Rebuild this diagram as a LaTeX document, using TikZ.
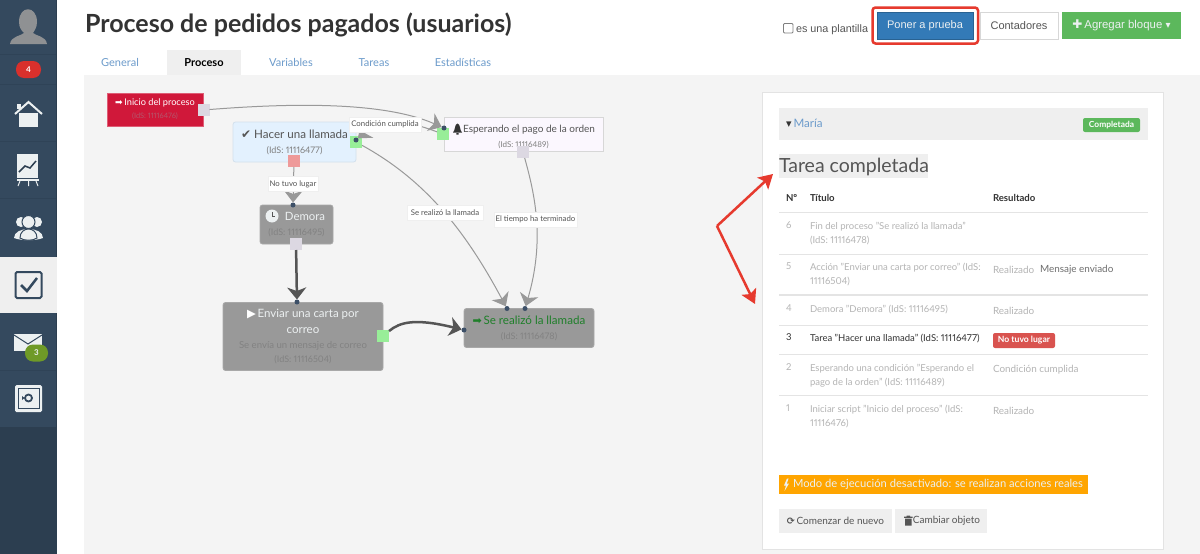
\documentclass[tikz,border=0pt]{standalone}
\usepackage{fontspec}
\usepackage{amsmath}
\usetikzlibrary{arrows.meta}
\setmainfont{Lato}[Numbers=Proportional]
\newfontfamily\symfont{DejaVu Sans}
\newfontfamily\btnfont{Liberation Sans}
\definecolor{sidebar}{HTML}{34495E}
\definecolor{sidedark}{HTML}{2C3E50}
\definecolor{sideline}{HTML}{2F4357}
\definecolor{iconlight}{HTML}{ECF0F1}
\definecolor{canvasgray}{HTML}{F4F4F4}
\definecolor{softgray}{HTML}{EFEFEF}
\definecolor{linkblue}{HTML}{6C9BCB}
\definecolor{titleink}{HTML}{333333}
\definecolor{blockgray}{HTML}{999999}
\definecolor{blockid}{HTML}{828282}
\definecolor{bluefill}{HTML}{E3F1FE}
\definecolor{blueedge}{HTML}{D3E0EC}
\definecolor{lilacfill}{HTML}{FBF7FE}
\definecolor{portgray}{HTML}{DCD8E2}
\definecolor{portgreen}{HTML}{98EE98}
\definecolor{portred}{HTML}{EE9A9A}
\definecolor{dotblue}{HTML}{3D5068}
\definecolor{darkline}{HTML}{555555}
\definecolor{redmark}{HTML}{E63A2E}
\definecolor{okgreen}{HTML}{5CB85C}
\definecolor{btnblue}{HTML}{337AB7}
\definecolor{startred}{HTML}{D0183A}
\definecolor{startid}{HTML}{B4566C}
\definecolor{endgreen}{HTML}{1F7F2A}
\definecolor{rowgray}{HTML}{B4B4B4}
\definecolor{rowline}{HTML}{E4E4E4}
\definecolor{warnorange}{HTML}{FFA500}
\definecolor{failred}{HTML}{D9534F}
\definecolor{badgered}{HTML}{D9302C}
\definecolor{badgegreen}{HTML}{6F9A27}
\newcommand{\fsz}[1]{\fontsize{#1}{#1}\selectfont}
\tikzstyle{every node}=[inner sep=0pt,outer sep=0pt]
\tikzstyle{block}=[rounded corners=2.5pt,align=center,fill=blockgray,draw=blockgray!85!white,line width=.8pt,text=iconlight]
\tikzstyle{port}=[minimum size=12pt]
\tikzstyle{pdot}=[circle,fill=dotblue,minimum size=5pt]
\tikzstyle{thinlink}=[draw=blockgray,line width=1pt,-{Stealth[length=12pt,width=19pt,inset=3.5pt,fill=blockgray]}]
\tikzstyle{boldlink}=[draw=darkline,line width=2.5pt,-{Stealth[length=12pt,width=19pt,inset=3.5pt,fill=darkline]}]
\tikzstyle{redlink}=[draw=redmark,line width=2.5pt,-{Stealth[length=14pt,width=16pt,inset=3pt]}]
\tikzstyle{edgetag}=[fill=white,draw=softgray,line width=.8pt,text=darkline,font=\fsz{7.8},minimum height=15pt]
\tikzstyle{tab}=[anchor=base,text=linkblue,font=\fsz{11}]
\tikzstyle{rowtext}=[anchor=north west,align=left,text=rowgray,font=\fontsize{9.5}{14}\selectfont]
\tikzstyle{rowres}=[anchor=west,text=rowgray,font=\fsz{9.9}]
\tikzstyle{rowrule}=[draw=rowline,line width=1pt]
\tikzstyle{headcell}=[anchor=west,text=titleink,font=\fsz{9.6}\bfseries]
\tikzstyle{topbtn}=[minimum height=27pt,font=\btnfont\fsz{11}]
\tikzstyle{greybtn}=[fill=softgray,text=darkline,minimum height=24pt,font=\fsz{10}]
\tikzstyle{sideicon}=[fill=iconlight,draw=none]
\newcommand{\ids}[2]{{\fontsize{9}{13}\selectfont\color{#1}(IdS: #2)}}

\begin{document}
\begin{tikzpicture}[x=1pt,y=-1pt]
\useasboundingbox (0,0) rectangle (1200,554);
\fill[white] (0,0) rectangle (1200,554);
\fill[canvasgray] (84,75) rectangle (1200,554);
\fill[sidebar] (0,0) rectangle (57,554);
\fill[sidedark] (0,427) rectangle (57,554);
\fill[softgray] (0,257) rectangle (57,313);
\draw[sidedark,line width=.8pt] (56.6,0)--(56.6,257) (56.6,313)--(56.6,554);
\foreach \yrow in {54,84,141,198,370}{
\draw[sideline,line width=.8pt] (0,\yrow)--(56,\yrow);
}

\fill[blockgray!90!sidebar] (19,22) .. controls (19,5) and (37,5) .. (37,22) .. controls (37,28) and (34,31) .. (33,33) .. controls (36,36) and (46,36) .. (47,44) -- (10,44) .. controls (11,36) and (21,36) .. (24,33) .. controls (22,31) and (19,28) .. (19,22) -- cycle;
\node[fill=badgered,rounded corners=8pt,minimum width=25pt,minimum height=17pt,text=white,font=\fsz{8}\bfseries] (badgefour) at (28.5,69.5) {4};

\fill[sideicon] (19,113)--(38,113)--(38,127)--(19,127)--cycle;
\draw[iconlight,line width=2pt] (15,114)--(28.5,102)--(42,114);
\fill[sideicon] (17,104) rectangle (21,109);

\fill[sideicon] (17,154) rectangle (38,178);
\fill[sideicon] (17,179) rectangle (39,181);
\draw[iconlight,line width=1pt] (20,181)--(18,186) (28.5,181)--(28.5,186) (36,181)--(38,186);
\draw[sidedark,line width=1.5pt] (19,172)--(25,166)--(30,168)--(36,161);

\foreach \xhead/\rhead in {21/5,37/5}{
\fill[sideicon] (\xhead,222) circle (\rhead);
}
\fill[sideicon] (14,238) .. controls (14,226) and (43,226) .. (43,238) .. controls (35,241) and (22,241) .. (14,238) -- cycle;
\draw[sidebar,line width=1pt,fill=iconlight] (28.5,222) circle (6.5);
\draw[sidebar,line width=1pt,fill=iconlight] (20,238) .. controls (20,226) and (37,226) .. (37,238) .. controls (33,241) and (24,241) .. (20,238) -- cycle;

\draw[sidebar,line width=2pt,rounded corners=1.5pt] (15.5,272) rectangle (41.5,298);
\draw[sidebar,line width=2.5pt] (21,285)--(27,291)--(37,278);

\fill[sideicon] (14,334) rectangle (42,351);
\draw[sidebar,line width=1pt] (14,335)--(28,344)--(42,335);
\node[fill=badgegreen,rounded corners=8pt,minimum width=23pt,minimum height=17pt,text=iconlight,font=\fsz{8}\bfseries] (badgethree) at (36.5,353) {3};

\fill[sideicon,rounded corners=1.5pt] (15,385) rectangle (42,412);
\draw[sidebar,line width=.8pt] (18,388) rectangle (39,408);
\draw[sidebar,line width=1.8pt] (28.5,398) circle (3.5);
\fill[sidebar] (22,396) -- (24.5,398) -- (22,400) -- cycle;

\node[anchor=west,text=titleink,font=\fsz{25}\bfseries] (pagetitle) at (85,25) {Proceso de pedidos pagados (usuarios)};
\fill[softgray] (167,50) rectangle (241,75);
\node[tab] (tabgeneral) at (120,66) {General};
\node[tab,text=black,font=\fsz{11}\bfseries] (tabproceso) at (204,66) {Proceso};
\node[tab] (tabvariables) at (291,66) {Variables};
\node[tab] (tabtareas) at (374,66) {Tareas};
\node[tab] (tabestadisticas) at (463,66) {Estadísticas};

\draw[gray,line width=.8pt,rounded corners=1pt,fill=white] (783.5,23.5) rectangle (793,33);
\node[anchor=west,text=darkline,font=\btnfont\fsz{10.8}] (plantilla) at (796,30) {es una plantilla};
\node[topbtn,fill=btnblue,draw=btnblue!80!black,line width=.8pt,text=iconlight,minimum width=96pt] (pruebabtn) at (925,25.5) {Poner a prueba};
\draw[redmark,line width=2.5pt,rounded corners=3pt] (872.5,7.5) rectangle (978,43.5);
\node[topbtn,fill=white,draw=softgray!90!black,line width=.8pt,text=darkline,minimum width=78pt] (contadoresbtn) at (1019,25.5) {Contadores};
\node[topbtn,fill=okgreen,text=iconlight,minimum width=119pt,font=\btnfont\fsz{11.4}] (agregarbtn) at (1121.5,25.5) {{\symfont\fsz{12}✚}\,Agregar bloque {\symfont\fsz{10}▾}};

\fill[white,draw=softgray!95!black,line width=1pt] (762.5,92) rectangle (1163,549);
\fill[softgray] (779,108) rectangle (1148,140);
\node[anchor=west,text=linkblue,font=\fsz{11.6}] (mariatext) at (786,123) {{\symfont\color{titleink}\fsz{11}▾}\hspace{2pt}María};
\node[fill=okgreen,rounded corners=2pt,minimum width=57pt,minimum height=14pt,text=white,font=\fsz{8.4}\bfseries] (completadatag) at (1111.5,125) {Completada};
\fill[softgray] (779,154) rectangle (928,178);
\node[anchor=west,text=darkline,font=\fsz{19.5}] (tareatitle) at (779,166.5) {Tarea completada};

\node[headcell] (headnum) at (786,198) {Nº};
\node[headcell] (headtitle) at (810,198) {Título};
\node[headcell] (headres) at (993,198) {Resultado};
\draw[rowrule,line width=1.5pt] (779,212.5)--(1148,212.5);
\draw[rowrule] (779,254)--(1148,254);
\draw[rowrule,line width=1.5pt] (779,295)--(1148,295);
\draw[rowrule] (779,325)--(1148,325);
\draw[rowrule] (779,354.5)--(1148,354.5);
\draw[rowrule] (779,395.5)--(1148,395.5);

\node[rowtext] (numsix) at (786,222) {6};
\node[rowtext] (rowsix) at (810,222) {Fin del proceso "Se realizó la llamada"\\(IdS: 11116478)};
\node[rowtext] (numfive) at (786,263) {5};
\node[rowtext] (rowfive) at (810,263) {Acción "Enviar una carta por correo" (IdS:\\11116504)};
\node[rowres] (resfive) at (993,269.5) {Realizado};
\node[rowres,text=darkline!85!white] (resfivemsg) at (1040,269.5) {Mensaje enviado};
\node[rowtext] (numfour) at (786,305) {4};
\node[rowtext] (rowfour) at (810,305) {Demora "Demora" (IdS: 11116495)};
\node[rowres] (resfour) at (993,310.5) {Realizado};
\node[rowtext,text=titleink] (numthree) at (786,334) {3};
\node[rowtext,text=titleink] (rowthree) at (810,334) {Tarea "Hacer una llamada" (IdS: 11116477)};
\node[fill=failred,rounded corners=2pt,minimum width=62pt,minimum height=15pt,text=white,font=\fsz{8.6}\bfseries] (failtag) at (1024,340.5) {No tuvo lugar};
\node[rowtext] (numtwo) at (786,364) {2};
\node[rowtext] (rowtwo) at (810,364) {Esperando una condición "Esperando el\\pago de la orden" (IdS: 11116489)};
\node[rowres] (restwo) at (993,369.5) {Condición cumplida};
\node[rowtext] (numone) at (786,405) {1};
\node[rowtext] (rowone) at (810,405) {Iniciar script "Inicio del proceso" (IdS:\\11116476)};
\node[rowres] (resone) at (993,411) {Realizado};

\node[fill=warnorange,minimum width=309pt,minimum height=19pt,text=iconlight,font=\fsz{11.2}] (modotag) at (933.5,484.5) {\hspace{9pt}Modo de ejecución desactivado: se realizan acciones reales};
\fill[iconlight] (787,478.5)--(784,485.5)--(786,485.5)--(784.5,491)--(789,483.5)--(786.8,483.5)--(788.6,478.5)--cycle;
\node[greybtn,minimum width=113pt] (comenzarbtn) at (835.5,521) {{\symfont\bfseries\fsz{9.5}⟳}\,Comenzar de nuevo};
\node[greybtn,minimum width=92pt] (cambiarbtn) at (941,521) {\hspace{11pt}Cambiar objeto};
\fill[darkline] (905,518.5) rectangle (911.5,525.5) (904,516.5) rectangle (912.5,517.8) (906.5,515.5) rectangle (910,516.5);

\node[fill=startred,draw=startred!70!white,line width=.8pt,minimum width=96pt,minimum height=33pt,align=center,text=white] (iniciobox) at (155,109.5) {{\symfont\fsz{9}➡}\,{\fsz{9.2}Inicio del proceso}\\[1pt]{\fontsize{7.4}{9}\selectfont\color{startid}(IdS: 11116476)}};
\node[block,fill=bluefill,draw=blueedge,minimum width=123pt,minimum height=40pt,text=darkline] (hacerbox) at (294.5,142) {{\symfont\bfseries\fsz{12}✔}\hspace{3pt}{\fsz{11.6}Hacer una llamada}\\[3pt]\ids{gray}{11116477}};
\node[block,fill=lilacfill,draw=softgray!90!black,minimum width=159pt,minimum height=34pt,rounded corners=0pt,text=darkline] (esperabox) at (523.5,134) {\rule{0pt}{13pt}\hspace{11pt}{\fsz{10}Esperando el pago de la orden}\\[3pt]{\fontsize{8}{10}\selectfont\color{gray}(IdS: 11116489)}};
\fill[titleink] (453,132.5) .. controls (455.5,130) and (454.5,124) .. (457.5,123.5) .. controls (460.5,124) and (459.5,130) .. (462,132.5) -- cycle (456.3,133.2) rectangle (458.7,134.5);
\node[block,minimum width=73pt,minimum height=39pt] (demorabox) at (296.5,224.5) {\hspace{17pt}{\fsz{11.4}Demora}\\[3pt]\ids{blockid}{11116495}};
\fill[iconlight] (272,216) circle (6.5);
\draw[darkline,line width=1pt] (272,212)--(272,216.5)--(275,216.5);
\node[block,minimum width=160pt,minimum height=68pt] (enviarbox) at (303,336.5) {{\symfont\color{white}\fsz{11.5}▶}\,{\fsz{11.5}Enviar una carta por}\\[4pt]{\fsz{11.5}correo}\\[3pt]{\fontsize{9.6}{11}\selectfont\color{blockid}Se envía un mensaje de correo}\\[2pt]\ids{blockid}{11116504}};
\node[block,minimum width=130pt,minimum height=39pt] (realizobox) at (529,328) {{\symfont\color{endgreen}\fsz{11}➡}\,{\fsz{11.6}\color{endgreen}Se realizó la llamada}\\[3pt]\ids{blockid}{11116478}};

\node[port,fill=portgray] (inicioport) at (203.5,110) {};
\node[port,fill=portgreen] (hacerok) at (356,142) {};
\node[port,fill=portred] (hacerfail) at (294,161) {};
\node[port,fill=portgreen] (esperaok) at (443,134) {};
\node[port,fill=portgray] (esperaend) at (523,152) {};
\node[port,fill=portgray] (demoraport) at (296,244) {};
\node[port,fill=portgreen] (enviarport) at (383,336) {};
\node[pdot] (hacerin) at (356,140) {};
\node[pdot] (esperain) at (444,128) {};
\node[pdot] (demorain) at (293,205) {};
\node[pdot] (enviarin) at (297,302) {};
\node[pdot] (realizoa) at (507,308.5) {};
\node[pdot] (realizob) at (525,308.5) {};
\node[pdot] (realizoc) at (464,330) {};

\draw[thinlink] (inicioport) .. controls (280,104) and (380,100) .. (esperain);
\draw[thinlink] (esperaok) .. controls (410,122) and (385,115) .. (hacerin);
\draw[thinlink] (hacerok) .. controls (425,180) and (465,230) .. (realizoa);
\draw[thinlink] (esperaend) .. controls (535,195) and (545,240) .. (realizob);
\draw[thinlink] (hacerfail) -- (demorain);
\draw[boldlink] (demoraport) -- (enviarin);
\draw[boldlink] (enviarport) .. controls (400,322) and (415,318) .. (realizoc);

\node[edgetag,minimum width=72pt] (tagcondicion) at (385,124.5) {Condición cumplida};
\node[edgetag,minimum width=50pt] (tagnotuvo) at (293,184) {No tuvo lugar};
\node[edgetag,minimum width=76pt] (tagrealizo) at (445,212.5) {Se realizó la llamada};
\node[edgetag,minimum width=83pt] (tagtiempo) at (535.5,219.5) {El tiempo ha terminado};

\coordinate (redcorner) at (717,226);
\coordinate (redtipa) at (773,174);
\coordinate (redtipb) at (755,304);
\draw[redlink] (redcorner) -- (redtipa);
\draw[redlink] (redcorner) -- (redtipb);
\end{tikzpicture}
\end{document}
